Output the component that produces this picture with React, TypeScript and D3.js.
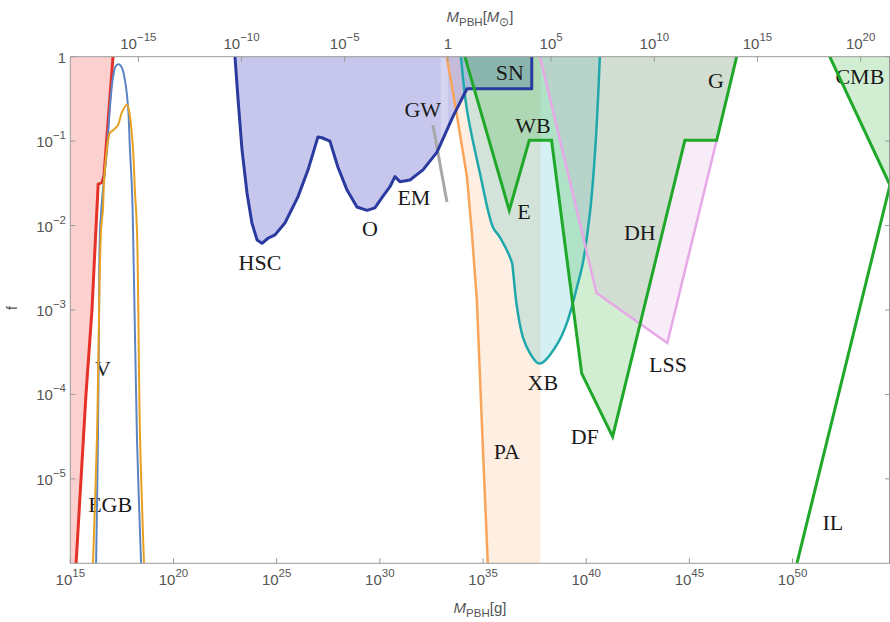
import React from 'react';
import * as d3 from 'd3';

const W = 890;
const H = 622;
const MSUN = 1.989e33;

// every curve is a list of [log10(M / g), log10(f)]
const evaporation = [[15.28, -6], [15.76, -4], [16.05, -3], [16.25, -2], [16.35, -1.51], [16.54, -1.49], [16.63, -1.41], [17.07, 0]];
const egbBlue = [[16.25, -6], [16.34, -4.52], [16.39, -3.24], [16.44, -2.05], [16.58, -1.58], [16.78, -1.1], [16.92, -0.6], [17.07, -0.24], [17.21, -0.11], [17.36, -0.09], [17.5, -0.13], [17.65, -0.28], [17.8, -0.6], [17.89, -1.1], [17.99, -1.58], [18.04, -2.05], [18.13, -3.24], [18.23, -4.52], [18.43, -6]];
const egbOrange = [[16.1, -6], [16.29, -4.52], [16.49, -2.05], [16.58, -1.82], [16.63, -1.5], [16.73, -1.19], [16.83, -0.99], [16.92, -0.9], [17.07, -0.87], [17.31, -0.81], [17.5, -0.66], [17.75, -0.57], [17.89, -0.71], [18.04, -1.1], [18.13, -1.58], [18.23, -2.05], [18.38, -4.52], [18.57, -6]];
const lensing = [[22.98, 0], [23.13, -0.51], [23.32, -1.1], [23.56, -1.61], [23.8, -1.97], [24.05, -2.17], [24.29, -2.21], [24.58, -2.15], [24.92, -2.11], [25.4, -1.97], [26.03, -1.66], [26.52, -1.34], [27.0, -0.95], [27.19, -0.96], [27.58, -1.0], [27.97, -1.31], [28.41, -1.58], [28.89, -1.78], [29.38, -1.82], [29.76, -1.79], [30.1, -1.67], [30.49, -1.54], [30.73, -1.42], [30.97, -1.48], [31.46, -1.46], [32.09, -1.34], [32.77, -1.13], [33.54, -0.71], [34.22, -0.38], [37.36, -0.38], [37.36, 0]];
const gwLine = [[32.57, -0.81], [33.25, -1.72]];
const accretion = [[33.24, 0], [33.73, -0.69], [34.22, -1.42], [34.46, -2.09], [34.7, -2.88], [34.99, -4.62], [35.23, -6]];
const accretionEdge = 37.79;
const xrayBinaries = [[33.93, 0], [34.22, -0.63], [34.85, -1.38], [35.48, -2.02], [35.82, -2.14], [36.4, -2.44], [36.45, -2.53], [36.64, -2.96], [36.93, -3.32], [37.27, -3.51], [37.66, -3.63], [37.9, -3.62], [38.63, -3.39], [39.07, -3.15], [39.55, -2.73], [39.84, -2.44], [40.18, -1.85], [40.33, -1.46], [40.52, -0.75], [40.66, 0]];
const dynamical = [[34.12, 0], [36.27, -1.82], [37.24, -0.99], [38.32, -0.99], [39.78, -3.75], [41.28, -4.5], [44.78, -0.99], [46.32, -0.99], [47.29, 0]];
const lss = [[37.76, 0], [40.5, -2.8], [43.93, -3.39], [46.32, -0.99]];
const cmb = [[51.8, 0], [54.72, -1.52]];
const il = [[50.21, -6], [54.72, -1.52]];

const bottomTicks = [15, 20, 25, 30, 35, 40, 45, 50];
const topTicks = [-15, -10, -5, 0, 5, 10, 15, 20];
const leftTicks = [0, -1, -2, -3, -4, -5];
const rightTicks = [0, -1, -2, -3, -4, -5];

const labels = [
  { t: 'V', m: 16.58, f: -3.69 },
  { t: 'EGB', m: 16.93, f: -5.3 },
  { t: 'HSC', m: 24.19, f: -2.44 },
  { t: 'O', m: 29.52, f: -2.03 },
  { t: 'EM', m: 31.65, f: -1.67 },
  { t: 'GW', m: 32.08, f: -0.63 },
  { t: 'SN', m: 36.3, f: -0.19 },
  { t: 'WB', m: 37.42, f: -0.81 },
  { t: 'E', m: 36.98, f: -1.83 },
  { t: 'XB', m: 37.9, f: -3.86 },
  { t: 'PA', m: 36.15, f: -4.68 },
  { t: 'DF', m: 39.93, f: -4.5 },
  { t: 'LSS', m: 43.96, f: -3.64 },
  { t: 'DH', m: 42.6, f: -2.08 },
  { t: 'G', m: 46.28, f: -0.28 },
  { t: 'CMB', m: 53.26, f: -0.24 },
  { t: 'IL', m: 51.95, f: -5.52 },
];

const L = 70.3, R = 890, T = 56.7, B = 563.3;
const xMax = 54.72;

const x = d3.scaleLog().domain([1e15, 10 ** xMax]).range([L, R]);
const xTop = d3.scaleLog().domain([1e15 / MSUN, 10 ** xMax / MSUN]).range([L, R]);
const y = d3.scaleLog().domain([1e-6, 1]).range([B, T]);

const px = (d: number[]) => x(10 ** d[0]);
const py = (d: number[]) => y(10 ** d[1]);
const lin = d3.line<number[]>().x(px).y(py);
const smooth = d3.line<number[]>().x(px).y(py).curve(d3.curveCatmullRom.alpha(0.5));

const minus = (n: number) => (n < 0 ? '\u2212' + Math.abs(n) : String(n));

const tickFont = '"Liberation Sans", Arial, sans-serif';
const labelFont = '"Liberation Serif", "Times New Roman", serif';

export default function App() {
  const evapFill = lin([...evaporation, [15, 0], [15, -6]]) + 'Z';
  const paFill = lin([...accretion, [accretionEdge, -6], [accretionEdge, 0]]) + 'Z';
  const cmbFill = lin([...cmb, [xMax, 0]]) + 'Z';
  const pinkFill = lin([...lss, [47.29, 0]]) + 'Z';

  return (
    <svg width={W} height={H} style={{ position: 'absolute', left: 0, top: 0, background: '#fff' }}>
      <defs>
        <clipPath id="plot">
          <rect x={L} y={T} width={R - L} height={B - T} />
        </clipPath>
      </defs>

      <g clipPath="url(#plot)">
        {/* fills */}
        <path d={evapFill} fill="rgb(245,60,60)" fillOpacity={0.24} />
        <path d={paFill} fill="rgb(250,150,60)" fillOpacity={0.15} />
        <path d={lin(lensing) + 'Z'} fill="rgb(70,70,200)" fillOpacity={0.3} />
        <rect x={x(10 ** 32.95)} y={T} width={x(10 ** 33.3) - x(10 ** 32.95)} height={py([0, -2.2]) - T} fill="#fff" fillOpacity={0.25} />
        <path d={smooth(xrayBinaries) + 'Z'} fill="rgb(40,180,190)" fillOpacity={0.2} />
        <path d={lin(dynamical) + 'Z'} fill="rgb(30,170,30)" fillOpacity={0.2} />
        <path d={pinkFill} fill="rgb(220,140,220)" fillOpacity={0.17} />
        <path d={cmbFill} fill="rgb(30,170,30)" fillOpacity={0.2} />

        {/* labels */}
        {labels.map(l => (
          <text key={l.t} x={x(10 ** l.m)} y={y(10 ** l.f)} textAnchor="middle" dominantBaseline="central"
            fontFamily={labelFont} fontSize={22} fill="#1a1a1a">{l.t}</text>
        ))}

        {/* lines */}
        <path d={lin(evaporation)!} fill="none" stroke="#e53128" strokeWidth={3} />
        <path d={smooth(egbBlue)!} fill="none" stroke="#5b84c4" strokeWidth={2} />
        <path d={smooth(egbOrange)!} fill="none" stroke="#e8a020" strokeWidth={2} />
        <path d={lin(gwLine)!} fill="none" stroke="#a8a8a8" strokeWidth={3} />
        <path d={lin(accretion)!} fill="none" stroke="#f8a45a" strokeWidth={2.5} />
        <path d={smooth(xrayBinaries)!} fill="none" stroke="#1fa8ac" strokeWidth={2.5} />
        <path d={lin(lss)!} fill="none" stroke="#e6a8e6" strokeWidth={2.5} />
        <path d={lin(lensing)!} fill="none" stroke="#2b3a9f" strokeWidth={3} strokeLinejoin="round" />
        <path d={lin(dynamical)!} fill="none" stroke="#1fa82a" strokeWidth={3} />
        <path d={lin(cmb)!} fill="none" stroke="#1fa82a" strokeWidth={3} />
        <path d={lin(il)!} fill="none" stroke="#1fa82a" strokeWidth={3} />
      </g>

      {/* frame */}
      <g stroke="#999" strokeWidth={1} fill="none">
        <line x1={L} x2={R} y1={T} y2={T} />
        <line x1={L} x2={R} y1={B} y2={B} />
        <line x1={L} x2={L} y1={T} y2={B} />
        <line x1={R - 0.5} x2={R - 0.5} y1={T} y2={B} />
        {bottomTicks.map(e => <line key={'b' + e} x1={x(10 ** e)} x2={x(10 ** e)} y1={B} y2={B - 5} />)}
        {topTicks.map(e => <line key={'t' + e} x1={xTop(10 ** e)} x2={xTop(10 ** e)} y1={T} y2={T + 5} />)}
        {leftTicks.map(e => <line key={'l' + e} x1={L} x2={L + 5} y1={y(10 ** e)} y2={y(10 ** e)} />)}
        {rightTicks.map(e => <line key={'r' + e} x1={R} x2={R - 5} y1={y(10 ** e)} y2={y(10 ** e)} />)}
      </g>

      {/* tick labels */}
      <g fontFamily={tickFont} fill="#555">
        {bottomTicks.map(e => (
          <text key={'bl' + e} x={x(10 ** e)} y={585} textAnchor="middle" fontSize={15}>
            10<tspan dy={-8} fontSize={11.5}>{minus(e)}</tspan>
          </text>
        ))}
        {topTicks.map(e => (
          <text key={'tl' + e} x={xTop(10 ** e)} y={49} textAnchor="middle" fontSize={15}>
            {e === 0 ? '1' : <>10<tspan dy={-8} fontSize={11.5}>{minus(e)}</tspan></>}
          </text>
        ))}
        {leftTicks.map(e => (
          <text key={'ll' + e} x={66} y={y(10 ** e) + 6} textAnchor="end" fontSize={15}>
            {e === 0 ? '1' : <>10<tspan dy={-8} fontSize={11.5}>{minus(e)}</tspan></>}
          </text>
        ))}
      </g>

      {/* axis titles */}
      <g fontFamily={tickFont} fill="#555">
        <text x={480} y={613} textAnchor="middle" fontSize={15}>
          <tspan fontStyle="italic">M</tspan><tspan dy={4} fontSize={11.5}>PBH</tspan><tspan dy={-4}>[g]</tspan>
        </text>
        <text x={480} y={22} textAnchor="middle" fontSize={15}>
          <tspan fontStyle="italic">M</tspan><tspan dy={4} fontSize={11.5}>PBH</tspan><tspan dy={-4}>[</tspan><tspan fontStyle="italic">M</tspan><tspan dy={4} fontSize={11.5}>{'\u2299'}</tspan><tspan dy={-4}>]</tspan>
        </text>
        <text transform="translate(17,308) rotate(-90)" textAnchor="middle" fontSize={14}>f</text>
      </g>
    </svg>
  );
}
